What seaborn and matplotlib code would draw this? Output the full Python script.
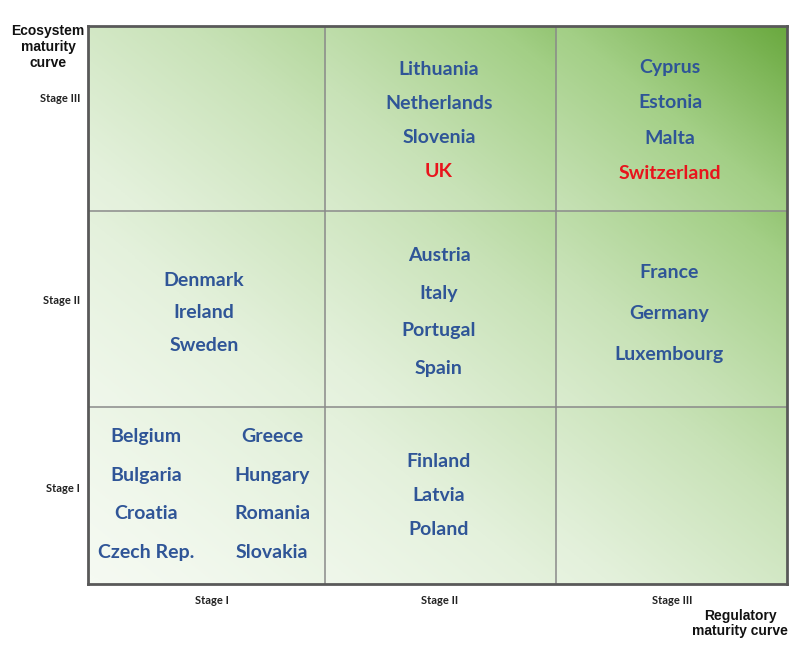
import matplotlib
matplotlib.use("Agg")
import matplotlib.pyplot as plt
import numpy as np
import seaborn as sns

# Datos: paises por celda (etapa regulatoria x etapa de ecosistema)
reg_stages = ["Stage I", "Stage II", "Stage III"]
eco_stages = ["Stage I", "Stage II", "Stage III"]

eco3_reg2 = ["Lithuania", "Netherlands", "Slovenia", "UK"]
eco3_reg3 = ["Cyprus", "Estonia", "Malta", "Switzerland"]
eco2_reg1 = ["Denmark", "Ireland", "Sweden"]
eco2_reg2 = ["Austria", "Italy", "Portugal", "Spain"]
eco2_reg3 = ["France", "Germany", "Luxembourg"]
eco1_reg1_a = ["Belgium", "Bulgaria", "Croatia", "Czech Rep."]
eco1_reg1_b = ["Greece", "Hungary", "Romania", "Slovakia"]
eco1_reg2 = ["Finland", "Latvia", "Poland"]

highlighted = ["UK", "Switzerland"]

# Disposicion en pixeles de la imagen (800x647)
W, H = 800, 647
AX_L, AX_T, AX_R, AX_B = 88, 26, 787, 584
col_edges_px = [88, 325, 556, 787]
row_edges_px = [584, 407, 211, 26]

# (lista, x centro, y centro, separacion) en pixeles
cell_layout = [
    (eco3_reg2, 439, 120.5, 34),
    (eco3_reg3, 670, 120.5, 35.3),
    (eco2_reg1, 204, 313, 32.5),
    (eco2_reg2, 439, 312, 37.7),
    (eco2_reg3, 669, 313.5, 41),
    (eco1_reg1_a, 146, 494.5, 38.7),
    (eco1_reg1_b, 272, 494.5, 38.7),
    (eco1_reg2, 439, 495.5, 34),
]

BLUE = "#2f5597"
RED = "#e8141c"


def to_ax(px, py):
    return (px - AX_L) / (AX_R - AX_L), (AX_B - py) / (AX_B - AX_T)


sns.set_theme(style="white")
plt.rcParams["font.family"] = ["Lato", "DejaVu Sans"]

fig = plt.figure(figsize=(W / 100, H / 100), dpi=100)
ax = fig.add_axes([AX_L / W, 1 - AX_B / H, (AX_R - AX_L) / W, (AX_B - AX_T) / H])

# Fondo degradado (global + un poco por celda)
n = 400
xs = np.linspace(0, 1, n)
X, Y = np.meshgrid(xs, xs)
cx = [to_ax(p, 0)[0] for p in col_edges_px]
cy = [to_ax(0, p)[1] for p in row_edges_px]
lx = np.zeros_like(X)
ly = np.zeros_like(Y)
for i in range(3):
    m = (X >= cx[i]) & (X <= cx[i + 1])
    lx[m] = (X[m] - cx[i]) / (cx[i + 1] - cx[i])
    m = (Y >= cy[i]) & (Y <= cy[i + 1])
    ly[m] = (Y[m] - cy[i]) / (cy[i + 1] - cy[i])
t = 0.88 * (X + Y) / 2 + 0.12 * (lx + ly) / 2
cmap = sns.blend_palette(["#f5faf2", "#e4f1dc", "#c8e2b7", "#a3cf86", "#6aa93f"], as_cmap=True)
ax.imshow(t ** 1.3, cmap=cmap, extent=(0, 1, 0, 1), origin="lower", aspect="auto", vmin=0, vmax=1)

for e in cx[1:-1]:
    ax.axvline(e, color="#8a8a8a", lw=1.1)
for e in cy[1:-1]:
    ax.axhline(e, color="#8a8a8a", lw=1.1)

ax.set_xlim(0, 1)
ax.set_ylim(0, 1)
for s in ax.spines.values():
    s.set_color("#595959")
    s.set_linewidth(2)

for names, px, pyc, gap in cell_layout:
    start = pyc - gap * (len(names) - 1) / 2
    for k, name in enumerate(names):
        x, y = to_ax(px, start + k * gap)
        ax.text(x, y, name, ha="center", va="center", fontsize=14, fontweight="bold",
                color=RED if name in highlighted else BLUE, transform=ax.transAxes)

ax.set_xticks([to_ax(p, 0)[0] for p in [212, 440, 672]])
ax.set_xticklabels(reg_stages, fontsize=8, fontweight="bold", color="#222222")
ax.set_yticks([to_ax(0, p)[1] for p in [488, 300, 97]])
ax.set_yticklabels(eco_stages, fontsize=8, fontweight="bold", color="#222222")
ax.tick_params(axis="x", length=0, pad=8)
ax.tick_params(axis="y", length=0, pad=5.5)

fig.text(48 / W, 1 - 24 / H, "Ecosystem\nmaturity\ncurve", ha="center", va="top",
         fontsize=10, fontweight="bold", family="Liberation Sans", linespacing=1.2, color="#111111")
fig.text(740 / W, 1 - 609 / H, "Regulatory\nmaturity curve", ha="center", va="top",
         fontsize=10, fontweight="bold", family="Liberation Sans", linespacing=1.12, color="#111111")

fig.savefig("out.png", dpi=100)
